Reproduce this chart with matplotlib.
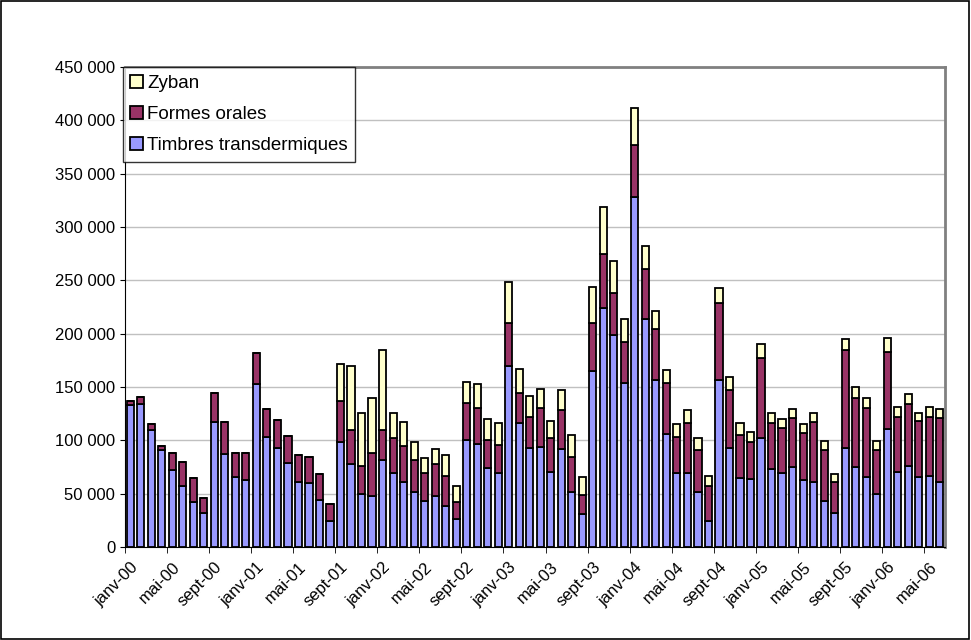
import numpy as np
import matplotlib.pyplot as plt
from matplotlib.ticker import FuncFormatter

plt.rcParams["font.family"] = ["Liberation Sans", "DejaVu Sans"]

# cumulative tops (thousands): timbres, +orales, +zyban
timbres = [133, 134, 110, 91, 72, 57, 42, 32, 117, 87, 66, 63,
           153, 103, 93, 79, 61, 60, 44, 24, 98, 78, 50, 48,
           82, 69, 61, 52, 43, 48, 38, 26, 100, 97, 74, 69,
           170, 116, 93, 94, 70, 92, 52, 31, 165, 224, 199, 154,
           328, 214, 157, 106, 69, 69, 52, 24, 157, 93, 65, 64,
           102, 73, 69, 75, 63, 61, 43, 32, 93, 75, 66, 50,
           111, 70, 76, 66, 67, 61]
orales_top = [137, 141, 115, 95, 88, 80, 65, 46, 144, 117, 88, 88,
              182, 129, 119, 104, 86, 84, 68, 40, 137, 110, 76, 88,
              110, 102, 95, 82, 69, 78, 67, 42, 135, 130, 100, 96,
              210, 144, 122, 130, 102, 128, 84, 49, 210, 275, 238, 192,
              377, 261, 204, 154, 103, 116, 91, 57, 229, 147, 105, 98,
              177, 116, 112, 121, 107, 117, 91, 61, 185, 140, 130, 91,
              183, 122, 134, 118, 122, 121]
totals = [137, 141, 115, 95, 88, 80, 65, 46, 144, 117, 88, 88,
          182, 129, 119, 104, 86, 84, 68, 40, 172, 170, 126, 140,
          185, 126, 117, 98, 83, 92, 86, 57, 155, 153, 120, 116,
          248, 167, 142, 148, 118, 147, 105, 66, 244, 319, 268, 214,
          412, 282, 221, 166, 115, 128, 102, 67, 243, 159, 116, 108,
          190, 126, 120, 129, 115, 126, 99, 68, 195, 150, 140, 99,
          196, 131, 143, 126, 131, 129]

mois = ["janv", "mai", "sept"]
labels = [f"{mois[(i // 4) % 3]}-{(i // 12):02d}" for i in range(0, 78, 4)]

t = np.array(timbres) * 1000
o = (np.array(orales_top) - np.array(timbres)) * 1000
z = (np.array(totals) - np.array(orales_top)) * 1000
x = np.arange(len(t))

fig = plt.figure(figsize=(9.71, 6.40), dpi=100)
fig.patches.append(plt.Rectangle((0.001, 0.001), 0.997, 0.997, transform=fig.transFigure,
                                 fill=False, edgecolor="black", linewidth=1.2))
ax = fig.add_axes([125 / 971, 1 - 547 / 640, 820 / 971, 480 / 640])

kw = dict(width=0.68, edgecolor="black", linewidth=1.3)
ax.bar(x, t, color="#9999FF", label="Timbres transdermiques", **kw)
ax.bar(x, o, bottom=t, color="#993366", label="Formes orales", **kw)
ax.bar(x, z, bottom=t + o, color="#FFFFCC", label="Zyban", **kw)

ax.set_xlim(-0.5, len(x) - 0.5)
ax.set_ylim(0, 450000)
ax.set_yticks(np.arange(0, 450001, 50000))
ax.yaxis.set_major_formatter(FuncFormatter(lambda v, p: f"{int(v):,}".replace(",", " ")))
ax.yaxis.grid(True, color="#c0c0c0", linewidth=1)
ax.set_axisbelow(True)
ax.set_xticks(np.arange(0, 78, 4))
ax.set_xticklabels(labels, rotation=45, ha="right", rotation_mode="anchor")
ax.set_xticks(np.arange(-0.5, 78, 4), minor=True)
ax.tick_params(axis="x", which="major", length=0, pad=9)
ax.tick_params(axis="x", which="minor", length=4)
ax.tick_params(labelsize=12)
for s in ["top", "right"]:
    ax.spines[s].set_color("#808080")
    ax.spines[s].set_linewidth(2)
ax.spines["left"].set_color("black")
ax.spines["bottom"].set_color("black")

h, l = ax.get_legend_handles_labels()
leg = ax.legend(h[::-1], l[::-1], loc="upper left", bbox_to_anchor=(-0.003, 1.0),
                fancybox=False, edgecolor="black", fontsize=13.5, handlelength=0.7,
                handleheight=0.7, labelspacing=0.75, borderaxespad=0.0, handletextpad=0.2,
                borderpad=0.4)
leg.get_frame().set_linewidth(1)

fig.savefig("out.png", dpi=100)
